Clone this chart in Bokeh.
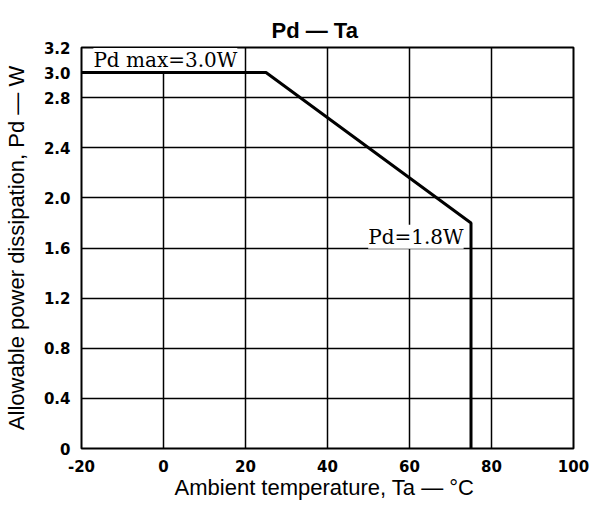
from bokeh.plotting import figure
from bokeh.models import FixedTicker, Label, Range1d
from bokeh.embed import file_html
from bokeh.resources import INLINE

# Data
ta = [-20, 25, 75, 75]
pd_w = [3.0, 3.0, 1.8, 0.0]

x_ticks = [-20, 0, 20, 40, 60, 80, 100]
x_tick_labels = ["-20", "0", "20", "40", "60", "80", "100"]
y_ticks = [0, 0.4, 0.8, 1.2, 1.6, 2.0, 2.4, 2.8, 3.0, 3.2]
y_tick_labels = ["0", "0.4", "0.8", "1.2", "1.6", "2.0", "2.4", "2.8", "3.0", "3.2"]
x_grid = [0, 20, 40, 60, 80]
y_grid = [0.4, 0.8, 1.2, 1.6, 2.0, 2.4, 2.8]

title_text = "Pd — Ta"
label_max = ("Pd max=3.0W", -17.1, 3.10)
label_min = ("Pd=1.8W", 73.2, 1.69)

p = figure(width=592, height=505, output_backend="svg", toolbar_location=None,
           x_range=Range1d(-20, 100), y_range=Range1d(0, 3.2),
           min_border_left=80, min_border_right=19, min_border_top=47, min_border_bottom=57,
           title=title_text)
p.background_fill_color = "white"
p.border_fill_color = "white"
p.outline_line_color = "black"
p.outline_line_width = 2

p.title.align = "left"
p.title.offset = 190
p.title.text_font = "Liberation Sans"
p.title.text_font_size = "22px"
p.title.text_font_style = "bold"
p.title.text_color = "black"
p.title.standoff = 10

# axes
p.xaxis.ticker = FixedTicker(ticks=x_ticks)
p.xaxis.major_label_overrides = {t: l for t, l in zip(x_ticks, x_tick_labels)}
p.yaxis.ticker = FixedTicker(ticks=y_ticks)
p.yaxis.major_label_overrides = {t: l for t, l in zip(y_ticks, y_tick_labels)}
for ax in (p.xaxis[0], p.yaxis[0]):
    ax.axis_line_color = None
    ax.major_tick_line_color = None
    ax.minor_tick_line_color = None
    ax.major_label_text_font = "DejaVu Sans"
    ax.major_label_text_font_style = "bold"
    ax.major_label_text_font_size = "15px"
    ax.major_label_text_color = "black"
    ax.axis_label_text_font = "Liberation Sans"
    ax.axis_label_text_font_style = "normal"
    ax.axis_label_text_font_size = "22px"
    ax.axis_label_text_color = "black"
p.xaxis.axis_label = "Ambient temperature, Ta —  °C"
p.yaxis.axis_label = "Allowable power dissipation, Pd — W"
p.xaxis.major_label_standoff = 5
p.xaxis.axis_label_standoff = 0
p.yaxis.major_label_standoff = 5
p.yaxis.axis_label_standoff = 12

# grid
p.xgrid.ticker = FixedTicker(ticks=x_grid)
p.ygrid.ticker = FixedTicker(ticks=y_grid)
for g in (p.xgrid[0], p.ygrid[0]):
    g.grid_line_color = "black"
    g.grid_line_width = 1.5
    g.grid_line_alpha = 1.0

# curve (drawn above the labels' white boxes)
p.line(ta, pd_w, line_color="black", line_width=3, level="overlay")

# labels (white boxes hide the grid behind them)
for text, lx, ly, align in [(label_max[0], label_max[1], label_max[2], "left"),
                            (label_min[0], label_min[1], label_min[2], "right")]:
    p.add_layout(Label(x=lx, y=ly, text=text, text_align=align, text_baseline="middle",
                       text_font="DejaVu Serif", text_font_size="20px", text_color="black",
                       background_fill_color="white", background_fill_alpha=1.0))

open("out.html", "w").write(file_html(p, INLINE))
